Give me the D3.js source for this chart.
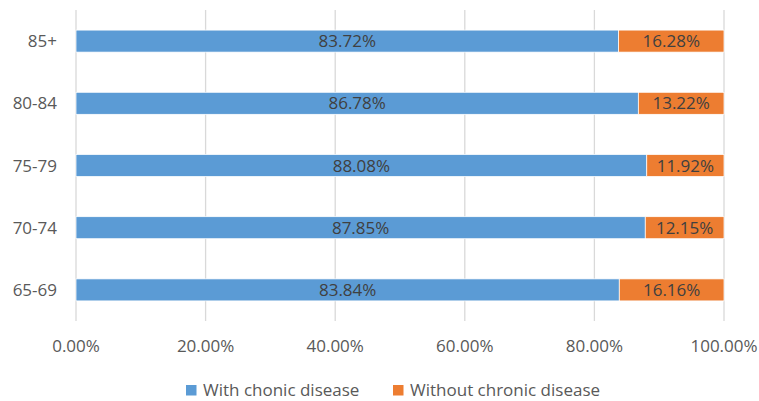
<!DOCTYPE html>
<html><head><meta charset="utf-8">
<script src="https://cdn.jsdelivr.net/npm/d3@7"></script>
<style>body{margin:0;background:#fff;}svg{display:block;font-family:"Open Sans",sans-serif;}</style>
</head><body><svg id="c" width="759" height="401"></svg>
<script>
const categories = ["65-69", "70-74", "75-79", "80-84", "85+"];
const withDisease = [83.84, 87.85, 88.08, 86.78, 83.72];
const withoutDisease = [16.16, 12.15, 11.92, 13.22, 16.28];
const seriesNames = ["With chonic disease", "Without chronic disease"];
const xTicks = [0, 20, 40, 60, 80, 100];
const colors = ["#5B9BD5", "#ED7D31"];

(function () {
const svg = d3.select("#c");
const mLeft = 76, mRight = 724, mTop = 10, mBottom = 321;
const x = d3.scaleLinear().domain([0, 100]).range([mLeft, mRight]);
const y = d3.scaleBand().domain(categories.slice().reverse()).range([mTop, mBottom]).paddingInner(0.646).paddingOuter(0.323);

// gridlines
svg.append("g").selectAll("line").data(xTicks).join("line")
  .attr("x1", d => x(d)).attr("x2", d => x(d)).attr("y1", mTop).attr("y2", mBottom)
  .attr("stroke", "#d9d9d9").attr("stroke-width", 1.3);

// x tick labels
svg.append("g").selectAll("text").data(xTicks).join("text")
  .attr("x", d => x(d)).attr("y", 352).attr("text-anchor", "middle")
  .attr("font-size", 17).attr("fill", "#595959")
  .text(d => d.toFixed(2) + "%");

// category labels
svg.append("g").selectAll("text").data(categories).join("text")
  .attr("x", 57).attr("y", d => y(d) + y.bandwidth() / 2).attr("dy", "0.36em")
  .attr("text-anchor", "end").attr("font-size", 17).attr("fill", "#595959")
  .text(d => d);

const rows = categories.map((c, i) => ({ c, a: withDisease[i], b: withoutDisease[i] }));
const segs = [];
rows.forEach(r => {
  segs.push({ c: r.c, x0: 0, x1: r.a, v: r.a, s: 0 });
  segs.push({ c: r.c, x0: r.a, x1: r.a + r.b, v: r.b, s: 1 });
});

svg.append("g").selectAll("rect").data(segs).join("rect")
  .attr("x", d => x(d.x0)).attr("width", d => x(d.x1) - x(d.x0))
  .attr("y", d => y(d.c)).attr("height", y.bandwidth())
  .attr("fill", d => colors[d.s]).attr("stroke", "#ffffff").attr("stroke-width", 0.75);

svg.append("g").selectAll("text").data(segs).join("text")
  .attr("x", d => (x(d.x0) + x(d.x1)) / 2).attr("y", d => y(d.c) + y.bandwidth() / 2).attr("dy", "0.36em")
  .attr("text-anchor", "middle").attr("font-size", 17).attr("fill", "#404040")
  .text(d => d.v.toFixed(2) + "%");

// legend
const legX = [186, 393];
const lg = svg.append("g").selectAll("g").data(seriesNames).join("g");
lg.append("rect").attr("x", (d, i) => legX[i]).attr("y", 385).attr("width", 10.5).attr("height", 10.5)
  .attr("fill", (d, i) => colors[i]);
lg.append("text").attr("x", (d, i) => legX[i] + 17).attr("y", 396)
  .attr("font-size", 17).attr("fill", "#595959").text(d => d);
})();
</script></body></html>
